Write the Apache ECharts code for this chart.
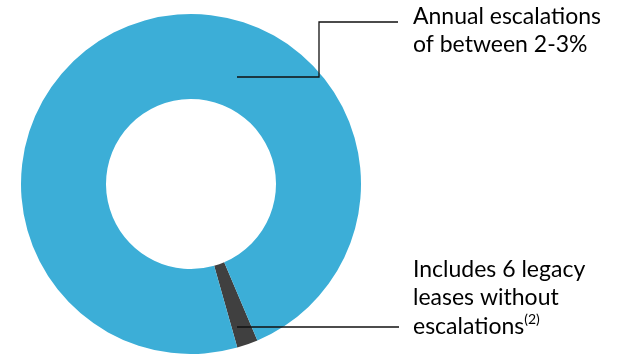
<!DOCTYPE html>
<html><head><meta charset="utf-8">
<script src="https://cdn.jsdelivr.net/npm/echarts@6/dist/echarts.min.js"></script>
<style>html,body{margin:0;padding:0;background:#fff}#c{width:633px;height:354px}</style>
</head><body><div id="c"></div>
<script>
const categories = ['Legacy leases without escalations', 'Annual escalations'];
const labelLines = [
  ['Includes 6 legacy', 'leases without', 'escalations{sup|(2)}'],
  ['Annual escalations', 'of between 2-3%']
];
const values = [2, 98];
const colors = ['#404040', '#3CAED7'];

const CX = 191, CY = 184, R0 = 85, R1 = 170;
const FONT = 'Lato';
const chart = echarts.init(document.getElementById('c'), null, {renderer: 'canvas'});
const data = values.map((v, i) => ({ value: v, name: categories[i], itemStyle: {color: colors[i]} }));
const base = {
  type: 'pie',
  center: [CX, CY],
  radius: [R0, R1],
  startAngle: 293,
  clockwise: true,
  avoidLabelOverlap: false,
  emphasis: {disabled: true},
  silent: true
};
chart.setOption({
  animation: false,
  series: [
    Object.assign({}, base, {
      z: 2,
      data: data,
      label: {show: false},
      labelLine: {show: false}
    }),
    Object.assign({}, base, {
      z: 5,
      data: values.map((v, i) => ({ value: v, name: categories[i], itemStyle: {color: 'rgba(0,0,0,0)'} })),
      label: {
        show: true,
        formatter: p => labelLines[p.dataIndex].join('\n'),
        fontFamily: FONT, fontSize: 23, lineHeight: 28.5, color: '#000',
        rich: { sup: {fontFamily: FONT, fontSize: 14, verticalAlign: 'top', lineHeight: 28.5, color: '#000'} }
      },
      labelLine: { show: true, lineStyle: {color: '#111', width: 1.3} },
      labelLayout: function (p) {
        if (p.dataIndex === 1) {
          return {
            x: 413, y: 2, align: 'left', verticalAlign: 'top',
            labelLinePoints: [[CX + 46, CY - 107], [CX + 128, CY - 107], [CX + 128, CY - 162], [CX + 207, CY - 162]]
          };
        }
        return {
          x: 413, y: 255, align: 'left', verticalAlign: 'top',
          labelLinePoints: [[CX + 46, CY + 143], [CX + 208, CY + 143]]
        };
      }
    })
  ]
});
</script></body></html>
